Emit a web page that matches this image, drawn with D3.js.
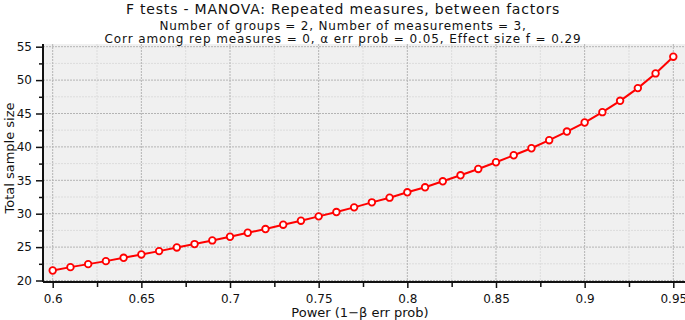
<!DOCTYPE html>
<html><head><meta charset="utf-8">
<script src="https://cdn.jsdelivr.net/npm/d3@7"></script>
<style>
body{margin:0;background:#fff;}
svg{display:block;font-family:"DejaVu Sans",sans-serif;}
</style></head>
<body><svg id="c" width="685" height="320"></svg>
<script>
const power = [0.60,0.61,0.62,0.63,0.64,0.65,0.66,0.67,0.68,0.69,0.70,0.71,0.72,0.73,0.74,0.75,0.76,0.77,0.78,0.79,0.80,0.81,0.82,0.83,0.84,0.85,0.86,0.87,0.88,0.89,0.90,0.91,0.92,0.93,0.94,0.95];
const sampleSize = [21.5,22.0,22.45,22.9,23.4,23.9,24.4,24.95,25.45,26.0,26.55,27.15,27.7,28.35,28.95,29.6,30.25,30.95,31.7,32.4,33.2,33.95,34.85,35.75,36.7,37.7,38.75,39.8,41.0,42.3,43.65,45.2,46.9,48.8,51.0,53.5];
const xTicks = [0.6,0.65,0.7,0.75,0.8,0.85,0.9,0.95];
const xMinor = [0.625,0.675,0.725,0.775,0.825,0.875,0.925];
const yTicks = [20,25,30,35,40,45,50,55];
const yMinor = [22.5,27.5,32.5,37.5,42.5,47.5,52.5];
const titleLines = ["F tests - MANOVA: Repeated measures, between factors",
  "Number of groups = 2, Number of measurements = 3,",
  "Corr among rep measures = 0, α err prob = 0.05, Effect size f = 0.29"];
const xLabel = "Power (1−β err prob)";
const yLabel = "Total sample size";

const svg = d3.select("#c");
const plot = {left:43, right:685, top:44, bottom:282};
const x = d3.scaleLinear().domain([0.6,0.95]).range([52.7,673.3]);
const y = d3.scaleLinear().domain([20,55]).range([280.5,46.7]);

svg.append("rect").attr("x",plot.left).attr("y",plot.top)
  .attr("width",plot.right-plot.left).attr("height",plot.bottom-plot.top).attr("fill","#f0f0f0");

const g = svg.append("g");
g.selectAll(".vmin").data(xMinor).join("line")
  .attr("x1",d=>x(d)).attr("x2",d=>x(d)).attr("y1",plot.top).attr("y2",plot.bottom)
  .attr("stroke","#dcdcdc").attr("stroke-width",1).attr("stroke-dasharray","2,1");
g.selectAll(".hmin").data(yMinor).join("line")
  .attr("y1",d=>y(d)).attr("y2",d=>y(d)).attr("x1",plot.left).attr("x2",plot.right)
  .attr("stroke","#dcdcdc").attr("stroke-width",1).attr("stroke-dasharray","2,1");
g.selectAll(".vmaj").data(xTicks).join("line")
  .attr("x1",d=>x(d)).attr("x2",d=>x(d)).attr("y1",plot.top).attr("y2",plot.bottom)
  .attr("stroke","#b4b4b4").attr("stroke-width",1).attr("stroke-dasharray","2,1");
g.selectAll(".hmaj").data(yTicks).join("line")
  .attr("y1",d=>y(d)).attr("y2",d=>y(d)).attr("x1",plot.left).attr("x2",plot.right)
  .attr("stroke","#b4b4b4").attr("stroke-width",1).attr("stroke-dasharray","2,1");

const xAxis = svg.append("g").attr("transform",`translate(0,${plot.bottom})`)
  .call(d3.axisBottom(x).tickValues(xTicks).tickFormat(d3.format("")).tickSize(6).tickPadding(6));
svg.append("g").attr("transform",`translate(0,${plot.bottom})`)
  .call(d3.axisBottom(x).tickValues(xMinor).tickFormat("").tickSize(5))
  .select(".domain").remove();
const yAxis = svg.append("g").attr("transform",`translate(${plot.left},0)`)
  .call(d3.axisLeft(y).tickValues(yTicks).tickSize(7).tickPadding(4));
svg.append("g").attr("transform",`translate(${plot.left},0)`)
  .call(d3.axisLeft(y).tickValues(yMinor).tickFormat("").tickSize(4))
  .select(".domain").remove();
svg.selectAll(".tick line").attr("stroke","#111").attr("stroke-width",1.5);
svg.selectAll(".tick text").attr("font-size",12).attr("fill","#111").attr("font-family","DejaVu Sans, sans-serif");
xAxis.select(".domain").attr("d",`M${plot.left},0H${plot.right}`).attr("stroke","#111").attr("stroke-width",2);
yAxis.select(".domain").attr("d",`M0,${plot.top}V${plot.bottom}`).attr("stroke","#111").attr("stroke-width",2);

const pts = power.map((p,i)=>[p,sampleSize[i]]);
svg.append("path").datum(pts)
  .attr("d",d3.line().x(d=>x(d[0])).y(d=>y(d[1])))
  .attr("fill","none").attr("stroke","#ff0000").attr("stroke-width",2);
svg.selectAll(".pt").data(pts).join("circle")
  .attr("cx",d=>x(d[0])).attr("cy",d=>y(d[1])).attr("r",3.3)
  .attr("fill","#fff").attr("stroke","#ff0000").attr("stroke-width",1.8);

const tY = [14,30,43];
const tS = [14,12,12];
const tL = [0.8,0.8,0.9];
titleLines.forEach((t,i)=>{
  svg.append("text").attr("x",343).attr("y",tY[i]).attr("text-anchor","middle")
    .attr("font-size",tS[i]).attr("letter-spacing",tL[i]).attr("fill","#111").text(t);
});
svg.append("text").attr("x",360).attr("y",317).attr("text-anchor","middle")
  .attr("font-size",13).attr("fill","#111").text(xLabel);
svg.append("text").attr("transform","translate(14,158) rotate(-90)").attr("text-anchor","middle")
  .attr("font-size",13).attr("fill","#111").text(yLabel);
</script></body></html>
